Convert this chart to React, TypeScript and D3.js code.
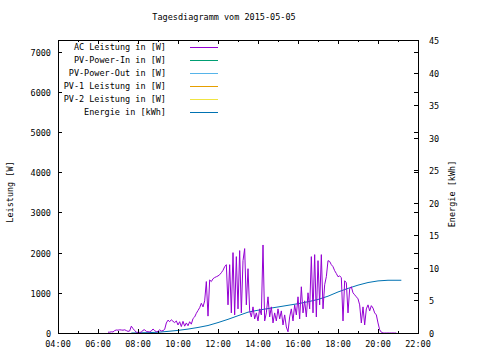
import React from "react";
import * as d3 from "d3";

const title = "Tagesdiagramm vom 2015-05-05";
const xTickLabels = ["04:00", "06:00", "08:00", "10:00", "12:00", "14:00", "16:00", "18:00", "20:00", "22:00"];
const yTicks = [0, 1000, 2000, 3000, 4000, 5000, 6000, 7000];
const y2Ticks = [0, 5, 10, 15, 20, 25, 30, 35, 40, 45];

const legendLabels = [
  "AC Leistung in [W]",
  "PV-Power-In in [W]",
  "PV-Power-Out in [W]",
  "PV-1 Leistung in [W]",
  "PV-2 Leistung in [W]",
  "Energie in [kWh]",
];
const legendColors = ["#9400d3", "#009e73", "#56b4e9", "#e69f00", "#f0e442", "#0072b2"];

// AC power samples, every 5 minutes starting 06:30
const acStart = "06:30";
const acStepMin = 5;
const acValues = [
  20, 20, 30, 25, 60, 75, 70, 80, 75, 70, 80, 60, 40, 50, 170, 110, 60, 20, 15, 15,
  20, 70, 80, 40, 30, 30, 50, 100, 60, 30, 40, 80, 50, 60, 90, 250, 320, 280, 330, 290,
  260, 300, 200, 280, 160, 290, 170, 250, 180, 280, 220, 360, 400, 490, 560, 630, 740, 650, 800, 1280,
  420, 1320, 1280, 1350, 1380, 1400, 1420, 1450, 1500, 1560, 1650, 1700, 700, 1700, 500, 2000, 450, 1900, 600, 2050,
  500, 1800, 2100, 700, 1600, 550, 400, 650, 350, 500, 300, 600, 450, 2190, 300, 500, 900, 400, 650, 250,
  500, 300, 600, 350, 550, 200, 450, 150, 30, 400, 600, 300, 700, 450, 900, 350, 1150, 500, 800, 400,
  1000, 600, 1900, 500, 1950, 400, 1800, 700, 1950, 600, 1200, 1400, 1800, 1780, 1700, 1650, 1550, 1480, 1400, 1420,
  1380, 300, 1300, 1250, 500, 1100, 1150, 1000, 950, 900, 850, 700, 250, 650, 200, 600, 700, 550, 680, 620,
  500, 450, 250, 80, 20, 0, 0, 0, 0, 0, 0, 0, 0, 0,
];

const energyTimes = [
  "07:40", "08:00", "08:30", "09:00", "09:30", "10:00", "10:30", "11:00", "11:30", "12:00",
  "12:30", "13:00", "13:30", "14:00", "14:30", "15:00", "15:30", "16:00", "16:30", "17:00",
  "17:30", "18:00", "18:30", "19:00", "19:30", "20:00", "20:30", "21:10",
];
const energyValues = [
  0, 0.02, 0.05, 0.12, 0.25, 0.4, 0.6, 0.85, 1.15, 1.6,
  2.1, 2.65, 3.2, 3.5, 3.75, 4.0, 4.25, 4.5, 4.8, 5.15,
  5.65, 6.3, 6.85, 7.35, 7.75, 8.0, 8.1, 8.1,
];

const toMin = (s: string) => {
  const [h, m] = s.split(":").map(Number);
  return h * 60 + m;
};

const W = 480;
const H = 360;
const L = 58, R = 418, T = 40, B = 333;
const FONT = "'DejaVu Sans Mono', monospace";
const FS = 8.5;

export default function App() {
  const x = d3.scaleLinear().domain([toMin("04:00"), toMin("22:00")]).range([L, R]);
  const y = d3.scaleLinear().domain([0, 7290]).range([B, T]);
  const y2 = d3.scaleLinear().domain([0, 45]).range([B, T]);

  const acStartMin = toMin(acStart);
  const acPts: [number, number][] = acValues.map((v, i) => [acStartMin + i * acStepMin, v]);
  const enPts: [number, number][] = energyTimes.map((t, i) => [toMin(t), energyValues[i]]);

  const acLine = d3.line<[number, number]>().x((d) => x(d[0])).y((d) => y(d[1]));
  const enLine = d3.line<[number, number]>().x((d) => x(d[0])).y((d) => y2(d[1]));

  const hourTicks = d3.range(toMin("04:00"), toMin("22:00") + 1, 60);

  return (
    <svg width={W} height={H} style={{ position: "absolute", left: 0, top: 0, background: "#fff" }}
      fontFamily={FONT} fontSize={FS}>
      <rect x={0} y={0} width={W} height={H} fill="#fff" />
      <text x={224} y={20} textAnchor="middle">{title}</text>

      {/* data */}
      <path d={enLine(enPts) || ""} fill="none" stroke={legendColors[5]} strokeWidth={1} />
      <path d={acLine(acPts) || ""} fill="none" stroke={legendColors[0]} strokeWidth={1} />

      {/* ticks x */}
      {hourTicks.map((m, i) => {
        const len = i % 2 === 0 ? 4 : 2;
        const px = Math.round(x(m)) + 0.5;
        return (
          <g key={"xt" + m}>
            <line x1={px} x2={px} y1={B} y2={B - len} stroke="#000" />
            <line x1={px} x2={px} y1={T} y2={T + len} stroke="#000" />
          </g>
        );
      })}
      {xTickLabels.map((lab) => (
        <text key={lab} x={x(toMin(lab))} y={347} textAnchor="middle">{lab}</text>
      ))}

      {/* ticks y */}
      {yTicks.map((v) => {
        const py = Math.round(y(v)) + 0.5;
        return (
          <g key={"yt" + v}>
            <line x1={L} x2={L + 4} y1={py} y2={py} stroke="#000" />
            <line x1={R} x2={R - 4} y1={py} y2={py} stroke="#000" />
            <text x={51} y={py + 3} textAnchor="end">{v}</text>
          </g>
        );
      })}
      {y2Ticks.map((v) => {
        const py = Math.round(y2(v)) + 0.5;
        return (
          <g key={"y2t" + v}>
            <line x1={R} x2={R - 4} y1={py} y2={py} stroke="#000" />
            <text x={429} y={py + 3} textAnchor="start">{v}</text>
          </g>
        );
      })}

      {/* border */}
      <rect x={L + 0.5} y={T + 0.5} width={R - L} height={B - T} fill="none" stroke="#000" strokeWidth={1} />

      {/* axis labels */}
      <text transform={`translate(13,${192}) rotate(-90)`} textAnchor="middle">Leistung [W]</text>
      <text transform={`translate(455,${194}) rotate(-90)`} textAnchor="middle">Energie [kWh]</text>

      {/* legend */}
      {legendLabels.map((lab, i) => {
        const ly = 47 + i * 13;
        return (
          <g key={lab}>
            <text x={166} y={ly + 3} textAnchor="end">{lab}</text>
            <line x1={190} x2={218} y1={ly + 0.5} y2={ly + 0.5} stroke={legendColors[i]} strokeWidth={1} />
          </g>
        );
      })}
    </svg>
  );
}
